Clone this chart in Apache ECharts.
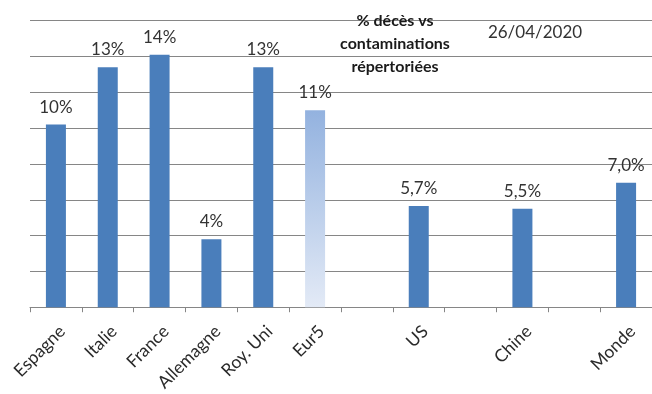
<!DOCTYPE html>
<html><head><meta charset="utf-8">
<script src="https://cdn.jsdelivr.net/npm/echarts@6/dist/echarts.min.js"></script>
<style>html,body{margin:0;padding:0;background:#fff}#c{width:652px;height:394px}</style>
</head><body><div id="c"></div>
<script>
const categories = ['Espagne','Italie','France','Allemagne','Roy. Uni','Eur5','','US','','Chine','','Monde'];
const values = [10.2, 13.4, 14.1, 3.8, 13.4, 11.0, null, 5.65, null, 5.5, null, 6.95];
const valueLabels = ['10%','13%','14%','4%','13%','11%','','5,7%','','5,5%','','7,0%'];
const highlightCategory = 'Eur5';
const titleLines = ['% décès vs','contaminations','répertoriées'];
const dateText = '26/04/2020';

const FONT = 'Lato, "Open Sans", sans-serif';
const chart = echarts.init(document.getElementById('c'));
const data = values.map((v, i) => {
  if (categories[i] === highlightCategory) {
    return { value: v, itemStyle: { color: new echarts.graphic.LinearGradient(0,0,0,1,[
      {offset:0,color:'#93b2df'},{offset:1,color:'#e3eaf6'}]) } };
  }
  return v;
});
chart.setOption({
  animation: false,
  grid: { left: 30, right: -2, top: 20.7, bottom: 82.7, containLabel: false },
  title: [
    { text: titleLines.join('\n'), left: 390, top: 4, textAlign: 'center',
      textStyle: { fontFamily: FONT, fontWeight: 'bold', fontSize: 16, lineHeight: 23, color: '#1a1a1a' } },
    { text: dateText, left: 530, top: 19, textAlign: 'center',
      textStyle: { fontFamily: FONT, fontWeight: 'normal', fontSize: 17, color: '#333' } }
  ],
  xAxis: {
    type: 'category', data: categories,
    axisLine: { lineStyle: { color: '#868686', width: 1 } },
    axisTick: { show: true, alignWithLabel: false, interval: 0, length: 5, lineStyle: { color: '#868686' } },
    axisLabel: { interval: 0, rotate: 45, fontFamily: FONT, fontSize: 17.5, color: '#2a2a2a', margin: 15, verticalAlign: 'top' },
    splitLine: { show: false }
  },
  yAxis: {
    type: 'value', min: 0, max: 16, interval: 2,
    axisLabel: { show: false }, axisLine: { show: false }, axisTick: { show: false },
    splitLine: { lineStyle: { color: '#868686', width: 1 } }
  },
  series: [{
    type: 'bar', data: data, barWidth: 20,
    itemStyle: { color: '#4a7ebb' },
    label: { show: true, position: 'top', distance: 9,
      formatter: p => valueLabels[p.dataIndex],
      fontFamily: FONT, fontSize: 17, color: '#333' }
  }]
});
</script></body></html>
